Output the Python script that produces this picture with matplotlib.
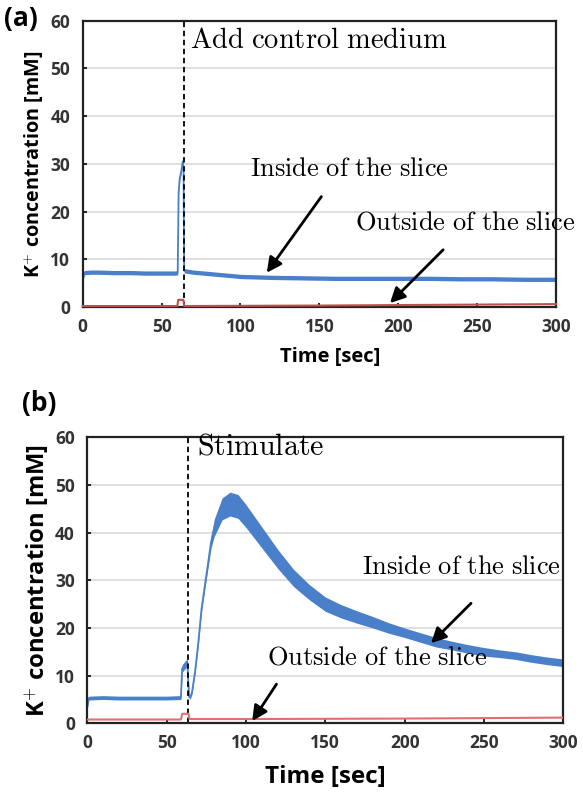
import numpy as np
import matplotlib
matplotlib.use("Agg")
import matplotlib.pyplot as plt

plt.rcParams['font.family'] = ['Open Sans', 'DejaVu Sans']
plt.rcParams['font.weight'] = 'bold'
plt.rcParams['mathtext.fontset'] = 'cm'

# ---- data ----
# (a) add control medium
t_in_a = [0, 1, 5, 10, 20, 30, 40, 50, 59, 60.2, 60.8, 61.5, 62.5, 63.4, 63.9, 64.3, 66, 70, 80, 90, 100,
          110, 120, 140, 160, 180, 200, 220, 240, 260, 280, 300]
in_a = [5.5, 7.2, 7.3, 7.3, 7.2, 7.2, 7.1, 7.1, 7.1, 7.2, 24, 27, 28.5, 30.5, 29, 7.6, 7.5, 7.3, 7.0, 6.7, 6.4,
        6.3, 6.2, 6.1, 6.0, 6.0, 6.0, 6.0, 5.9, 5.9, 5.8, 5.8]
t_out_a = [0, 60, 60.5, 63.8, 64.3, 150, 300]
out_a = [0.2, 0.2, 1.5, 1.5, 0.2, 0.3, 0.6]

# (b) stimulate
t_in_b = [0, 1, 10, 20, 30, 40, 50, 59, 59.8, 61, 63, 64.2, 65, 66, 68, 70, 72, 75, 78, 80, 85, 90, 95,
          100, 110, 120, 130, 140, 150, 160, 170, 180, 190, 200, 210, 220, 230, 240, 250, 260, 270,
          280, 290, 300]
in_b = [3.5, 5.3, 5.4, 5.3, 5.3, 5.3, 5.3, 5.4, 11.5, 12.0, 12.8, 5.5, 5.6, 6.5, 11, 17, 24, 31, 38, 41,
        45, 46, 45.5, 43.5, 39, 34.5, 30.5, 27.5, 25, 23.5, 22.3, 21.2, 20.0, 19.0, 18.0, 17.0, 16.3,
        15.6, 15.0, 14.6, 14.2, 13.6, 13.1, 12.7]
spread_b = [0.3, 0.4, 0.4, 0.4, 0.4, 0.4, 0.4, 0.4, 0.8, 0.8, 0.8, 0.4, 0.4, 0.4, 0.4, 0.5, 0.6, 0.8,
            1.2, 1.8, 2.3, 2.5, 2.5, 2.4, 2.2, 2.0, 1.8, 1.6, 1.5, 1.4, 1.3, 1.2, 1.1, 1.0, 1.0, 1.0,
            0.9, 0.9, 0.9, 0.8, 0.8, 0.8, 0.8, 0.8]
t_out_b = [0, 59, 59.8, 63.8, 64.5, 100, 200, 300]
out_b = [0.8, 0.8, 2.0, 2.0, 0.9, 0.9, 1.0, 1.2]

x_ticks = [0, 50, 100, 150, 200, 250, 300]
y_ticks = [0, 10, 20, 30, 40, 50, 60]

blue = '#4a7fc9'

fig = plt.figure(figsize=(5.83, 7.92), dpi=100)
ax_a = fig.add_axes([0.1419, 0.6124, 0.8118, 0.3615])
ax_b = fig.add_axes([0.1497, 0.0867, 0.8165, 0.3611])


def style(ax, xlab_size, ylab_size, xpad):
    ax.set_xlim(0, 300)
    ax.set_ylim(0, 60)
    ax.set_xticks(x_ticks)
    ax.set_yticks(y_ticks)
    ax.yaxis.grid(True, color='#d9d9d9', lw=1.2)
    ax.set_axisbelow(True)
    for s in ax.spines.values():
        s.set_linewidth(1.6)
        s.set_color('#222222')
    ax.tick_params(direction='in', length=3, width=1.2, labelsize=12.5, labelcolor='#333333')
    ax.tick_params(axis='x', pad=8)
    ax.tick_params(axis='y', pad=9)
    for lab in ax.get_xticklabels() + ax.get_yticklabels():
        lab.set_fontweight('bold')
    ax.set_xlabel('Time [sec]', fontsize=xlab_size, fontweight='bold', labelpad=xpad)
    ax.set_ylabel('K$^{+}$ concentration [mM]', fontsize=ylab_size, fontweight='bold', labelpad=3)


def note(ax, s, x, y, size):
    ax.text(x, y, r'$\mathrm{' + s.replace(' ', r'\ ') + '}$', fontsize=size,
            ha='left', va='center', clip_on=False)


def arrow(ax, start, end):
    ax.annotate('', xy=end, xytext=start,
                arrowprops=dict(arrowstyle='-|>,head_length=0.9,head_width=0.45',
                                color='black', lw=2))


# ---- (a) ----
ax = ax_a
ax.fill_between(t_in_a, np.array(in_a) - 0.45, np.array(in_a) + 0.45, color=blue, lw=0)
ax.plot(t_in_a, in_a, color=blue, lw=1.3)
ax.plot(t_out_a, out_a, color='#c0504d', lw=1.5, clip_on=False, zorder=3)
ax.axvline(64, color='black', ls=(0, (3, 2)), lw=1.3)
style(ax, 14.5, 14.2, 8)
ax.xaxis.label.set_x(0.522)
note(ax, 'Add control medium', 68, 55.8, 20.5)
note(ax, 'Inside of the slice', 106, 29, 19)
note(ax, 'Outside of the slice', 172.6, 17.9, 19)
arrow(ax, (152.3, 23.6), (115.6, 6.7))
arrow(ax, (229.7, 12.4), (193.5, 0.4))
fig.text(0.007, 0.977, '(a)', fontsize=19, fontweight='bold', ha='left', va='center')

# ---- (b) ----
ax = ax_b
ax.fill_between(t_in_b, np.array(in_b) - np.array(spread_b), np.array(in_b) + np.array(spread_b),
                color=blue, lw=0)
ax.plot(t_in_b, in_b, color=blue, lw=1.3)
ax.plot(t_out_b, out_b, color='#e07070', lw=1.5, zorder=3)
ax.axvline(63.3, color='black', ls=(0, (3, 2)), lw=1.3)
style(ax, 17.5, 17.1, 9)
note(ax, 'Stimulate', 69.2, 58.1, 21.5)
note(ax, 'Inside of the slice', 173.1, 32.8, 19)
note(ax, 'Outside of the slice', 113.1, 13.9, 19)
arrow(ax, (243.1, 25.6), (215.4, 16.4))
arrow(ax, (120.2, 8.7), (103, 0))
fig.text(0.037, 0.490, '(b)', fontsize=19, fontweight='bold', ha='left', va='center')

fig.savefig('out.png', dpi=100, facecolor='white')
